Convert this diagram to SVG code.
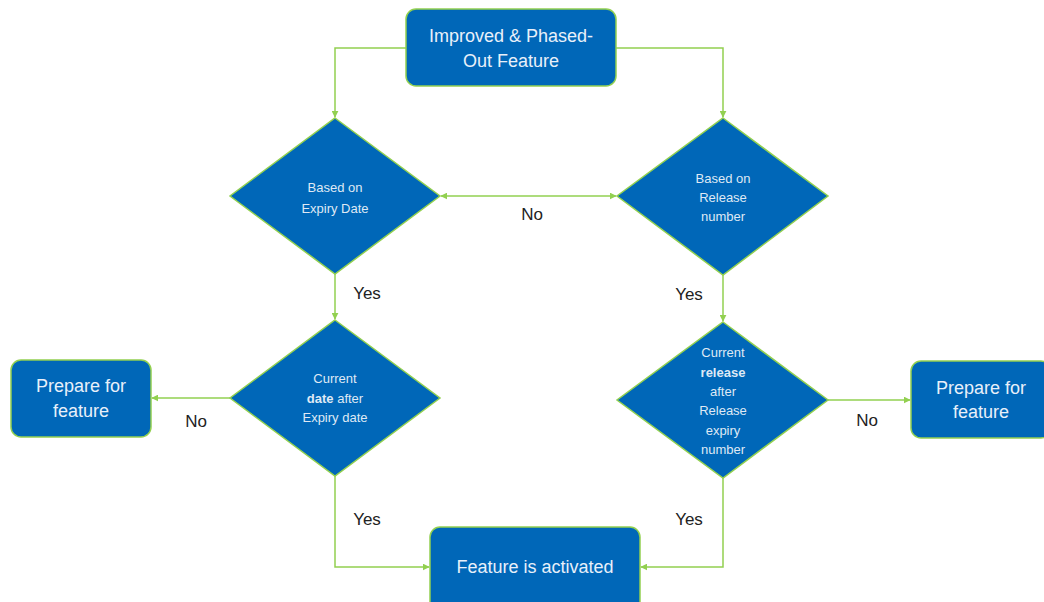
<svg xmlns="http://www.w3.org/2000/svg" width="1044" height="602" viewBox="0 0 1044 602">
<style>
.box{fill:#0067b8;stroke:#92d050;stroke-width:1.5}
.dia{fill:#0067b8;stroke:#92d050;stroke-width:1.5}
.con{fill:none;stroke:#92d050;stroke-width:1.5}
.bt{font-family:"Liberation Sans",Arial,sans-serif;font-size:18px;fill:#e8f0fa;text-anchor:middle}
.dt{font-family:"Liberation Sans",Arial,sans-serif;font-size:13px;fill:#dfe9f5;text-anchor:middle}
.lb{font-family:"Liberation Sans",Arial,sans-serif;font-size:17px;fill:#222;text-anchor:middle}
</style>
<defs>
<marker id="ah" viewBox="0 0 10 10" refX="9" refY="5" markerWidth="7" markerHeight="7" markerUnits="userSpaceOnUse" orient="auto-start-reverse">
<path d="M0,0 L10,5 L0,10 z" fill="#92d050"/>
</marker>
</defs>
<g id="connectors">
<path class="con" d="M406,48 H335 V117" marker-end="url(#ah)"/>
<path class="con" d="M616,48 H723 V117" marker-end="url(#ah)"/>
<path class="con" d="M441,196 H616" marker-start="url(#ah)" marker-end="url(#ah)"/>
<path class="con" d="M335,274 V319" marker-end="url(#ah)"/>
<path class="con" d="M723,275 V321" marker-end="url(#ah)"/>
<path class="con" d="M230,398 H152" marker-end="url(#ah)"/>
<path class="con" d="M828,400 H910" marker-end="url(#ah)"/>
<path class="con" d="M335,476 V567 H429" marker-end="url(#ah)"/>
<path class="con" d="M723,478 V567 H641" marker-end="url(#ah)"/>
<text class="lb" x="532" y="220">No</text>
<text class="lb" x="367" y="299">Yes</text>
<text class="lb" x="689" y="300">Yes</text>
<text class="lb" x="196" y="427">No</text>
<text class="lb" x="867" y="426">No</text>
<text class="lb" x="367" y="525">Yes</text>
<text class="lb" x="689" y="525">Yes</text>
</g>
<g id="start">
<rect class="box" x="406" y="9" width="210" height="77" rx="10"/>
<text class="bt" x="511" y="42">Improved &amp; Phased-</text>
<text class="bt" x="511" y="67">Out Feature</text>
</g>
<g id="d-expiry">
<polygon class="dia" points="335,118 440,196 335,274 230,196"/>
<text class="dt" x="335" y="192">Based on</text>
<text class="dt" x="335" y="213">Expiry Date</text>
</g>
<g id="d-release">
<polygon class="dia" points="723,118 828,196 723,275 617,196"/>
<text class="dt" x="723" y="183">Based on</text>
<text class="dt" x="723" y="202">Release</text>
<text class="dt" x="723" y="221">number</text>
</g>
<g id="d-date">
<polygon class="dia" points="335,320 440,398 335,476 230,398"/>
<text class="dt" x="335" y="383">Current</text>
<text class="dt" x="335" y="403"><tspan font-weight="bold">date</tspan> after</text>
<text class="dt" x="335" y="422">Expiry date</text>
</g>
<g id="d-rel">
<polygon class="dia" points="723,322 828,400 723,478 617,400"/>
<text class="dt" x="723" y="357">Current</text>
<text class="dt" x="723" y="377" font-weight="bold">release</text>
<text class="dt" x="723" y="396">after</text>
<text class="dt" x="723" y="415">Release</text>
<text class="dt" x="723" y="435">expiry</text>
<text class="dt" x="723" y="454">number</text>
</g>
<g id="prep-left">
<rect class="box" x="11" y="360" width="140" height="77" rx="10"/>
<text class="bt" x="81" y="392">Prepare for</text>
<text class="bt" x="81" y="417">feature</text>
</g>
<g id="prep-right">
<rect class="box" x="911" y="361" width="140" height="77" rx="10"/>
<text class="bt" x="981" y="394">Prepare for</text>
<text class="bt" x="981" y="418">feature</text>
</g>
<g id="activated">
<rect class="box" x="430" y="527" width="210" height="85" rx="10"/>
<text class="bt" x="535" y="573">Feature is activated</text>
</g>
</svg>
